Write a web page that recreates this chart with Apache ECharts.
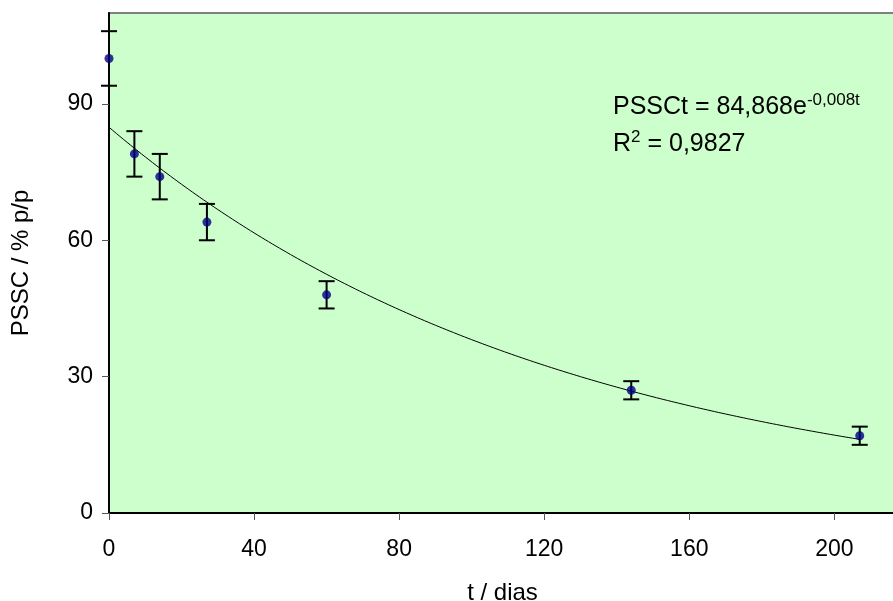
<!DOCTYPE html>
<html>
<head>
<meta charset="utf-8">
<script src="https://cdn.jsdelivr.net/npm/echarts@6/dist/echarts.min.js"></script>
<style>
  html, body { margin: 0; padding: 0; background: #fff; }
  #chart { width: 893px; height: 601px; }
</style>
</head>
<body>
<div id="chart"></div>
<script>
// Sampling days and measured PSSC (% p/p) with their standard deviations
const days = [0, 7, 14, 27, 60, 144, 207];
const pssc = [100, 79, 74, 64, 48, 27, 17];
const sd = [6, 5, 5, 4, 3, 2, 2];

// Exponential fit reported on the chart: PSSCt = A * e^(k t)
const fitA = 84.868;
const fitK = -0.008;
const fitR2 = '0,9827';
const fitEnd = 207;

const xTicks = [0, 40, 80, 120, 160, 200];
const yTicks = [0, 30, 60, 90];

const FONT = '"Liberation Sans", Arial, sans-serif';

const points = days.map((d, i) => [d, pssc[i]]);
const bars = days.map((d, i) => [d, pssc[i] - sd[i], pssc[i] + sd[i]]);
const curve = [];
for (let t = 0; t <= fitEnd; t += 1) curve.push([t, fitA * Math.exp(fitK * t)]);

const dec = v => String(v).replace('.', ',');

const chart = echarts.init(document.getElementById('chart'), null, { renderer: 'canvas' });
chart.setOption({
  animation: false,
  backgroundColor: '#ffffff',
  grid: {
    left: 109, top: 13, right: -3, bottom: 88,
    outerBoundsMode: 'none', containLabel: false,
    show: true, backgroundColor: '#CCFFCC', borderColor: '#808080', borderWidth: 2
  },
  xAxis: {
    type: 'value', min: 0, max: 217,
    name: 't / dias', nameLocation: 'middle', nameGap: 68,
    nameTextStyle: { fontFamily: FONT, fontSize: 24, color: '#000' },
    axisLine: { onZero: false, lineStyle: { color: '#000', width: 2 } },
    axisTick: { show: true, length: 7, customValues: xTicks, lineStyle: { color: '#555', width: 1 } },
    axisLabel: { customValues: xTicks, margin: 25, fontFamily: FONT, fontSize: 23, color: '#000' },
    splitLine: { show: false }
  },
  yAxis: {
    type: 'value', min: 0, max: 110,
    name: 'PSSC / % p/p', nameLocation: 'middle', nameGap: 76,
    nameTextStyle: { fontFamily: FONT, fontSize: 24, color: '#000' },
    axisLine: { onZero: false, lineStyle: { color: '#000', width: 2 } },
    axisTick: { show: true, length: 7, customValues: yTicks, lineStyle: { color: '#555', width: 1 } },
    axisLabel: { customValues: yTicks, margin: 16, fontFamily: FONT, fontSize: 23, color: '#000' },
    splitLine: { show: false }
  },
  series: [
    {
      type: 'line', data: curve, showSymbol: false, symbol: 'none',
      lineStyle: { color: '#000', width: 1 }, z: 2
    },
    {
      type: 'custom', data: bars, z: 3,
      renderItem: function (params, api) {
        const x = api.value(0);
        const lo = api.coord([x, api.value(1)]);
        const hi = api.coord([x, api.value(2)]);
        const half = 8;
        const style = { stroke: '#000', lineWidth: 2 };
        return {
          type: 'group',
          children: [
            { type: 'line', shape: { x1: lo[0], y1: lo[1], x2: hi[0], y2: hi[1] }, style },
            { type: 'line', shape: { x1: lo[0] - half, y1: lo[1], x2: lo[0] + half, y2: lo[1] }, style },
            { type: 'line', shape: { x1: hi[0] - half, y1: hi[1], x2: hi[0] + half, y2: hi[1] }, style }
          ]
        };
      }
    },
    {
      type: 'scatter', data: points, symbol: 'circle', symbolSize: 9,
      itemStyle: { color: '#000080' }, z: 4
    }
  ],
  graphic: [
    {
      type: 'text', left: 613, top: 89,
      style: {
        text: '{m|PSSCt = ' + dec(fitA) + 'e}{s|' + dec(fitK) + 't}\n{m|R}{s|2}{m| = ' + fitR2 + '}',
        rich: {
          m: { fontFamily: FONT, fontSize: 25, color: '#000', lineHeight: 37, verticalAlign: 'middle' },
          s: { fontFamily: FONT, fontSize: 17, color: '#000', lineHeight: 17, verticalAlign: 'top', padding: [3, 0, 0, 0] }
        }
      }
    }
  ]
});
</script>
</body>
</html>
